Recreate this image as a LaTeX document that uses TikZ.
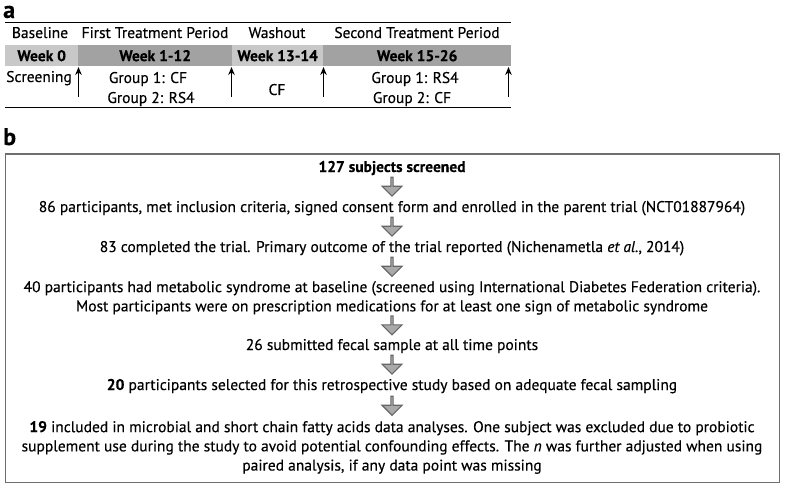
\documentclass[tikz,border=0pt]{standalone}
\usepackage{fontspec}
\setmainfont{PT Sans}[FakeBold=0.35]
\usetikzlibrary{shapes.arrows,calc,arrows.meta}
\definecolor{lightcell}{HTML}{C8C8C8}
\definecolor{darkcell}{HTML}{A2A2A2}
\definecolor{arrfill}{HTML}{A9A9A9}
\definecolor{arrline}{HTML}{666666}
\definecolor{framecol}{HTML}{6E6E6E}
\begin{document}
\begin{tikzpicture}[x=1pt,y=-1pt,
  font=\fontsize{15.5}{19.2}\selectfont,
  panel/.style={font=\fontsize{24}{24}\selectfont\bfseries, anchor=base west, inner sep=0},
  hdr/.style={anchor=base, inner sep=0, font=\fontsize{15.5}{19}\selectfont},
  cell/.style={anchor=north west, minimum height=21pt, inner sep=0, font=\fontsize{15.5}{19}\selectfont\bfseries},
  txt/.style={anchor=base, inner sep=0, align=center},
  txtm/.style={anchor=north, inner sep=0, align=center},
  uparr/.style={line width=1.8pt, -{Stealth[length=8pt,width=6.5pt]}},
  barrow/.style={single arrow, shape border rotate=270, draw=arrline, fill=arrfill, line width=1.1pt,
     minimum height=19pt, minimum width=20pt, single arrow head extend=4.5pt, single arrow tip angle=90, inner sep=0}
]
\useasboundingbox (0,0) rectangle (787,484);

% ---------- panel a ----------
\node[panel] (la) at (3,18) {a};
\draw[line width=1pt] (5,23) -- (511,23);
\node[hdr] (h1) at (40,38) {Baseline};
\node[hdr] (h2) at (155,38) {First Treatment Period};
\node[hdr] (h3) at (277,38) {Washout};
\node[hdr] (h4) at (417,38) {Second Treatment Period};

\node[cell, fill=lightcell, minimum width=73pt] (c1) at (5,45) {Week 0};
\node[cell, fill=darkcell, minimum width=154pt] (c2) at (78,45) {Week 1-12};
\node[cell, fill=lightcell, minimum width=91pt] (c3) at (232,45) {Week 13-14};
\node[cell, fill=darkcell, minimum width=188pt] (c4) at (323,45) {Week 15-26};

\node[hdr] (s1) at (39,82) {Screening};
\node[hdr] (g11) at (148,83) {Group 1: CF};
\node[hdr] (g12) at (151,103) {Group 2: RS4};
\node[hdr] (cf) at (277,95) {CF};
\node[hdr] (g21) at (415,83) {Group 1: RS4};
\node[hdr] (g22) at (412,103) {Group 2: CF};

\coordinate (a1b) at (78.5,97); \coordinate (a1t) at (78.5,67);
\coordinate (a2b) at (231.5,97); \coordinate (a2t) at (231.5,67);
\coordinate (a3b) at (323.5,97); \coordinate (a3t) at (323.5,67);
\coordinate (a4b) at (508.5,97); \coordinate (a4t) at (508.5,67);
\draw[uparr] (a1b) -- (a1t);
\draw[uparr] (a2b) -- (a2t);
\draw[uparr] (a3b) -- (a3t);
\draw[uparr] (a4b) -- (a4t);
\draw[line width=1pt] (5,108) -- (511,108);

% ---------- panel b ----------
\node[panel] (lb) at (3,145) {b};
\node[draw=framecol, line width=1.5pt, minimum width=774pt, minimum height=328pt, anchor=north west, inner sep=0] (frame) at (4.5,153.5) {};

\node[txt] (t1) at (392,172) {\strut\bfseries 127 subjects screened};
\node[txt] (t2) at (392,212) {\strut 86 participants, met inclusion criteria, signed consent form and enrolled in the parent trial (NCT01887964)};
\node[txt] (t3) at (392,252) {\strut 83 completed the trial. Primary outcome of the trial reported (Nichenametla \textit{et al.}, 2014)};
\node[txtm] (t4) at (392,278.5) {\strut 40 participants had metabolic syndrome at baseline (screened using International Diabetes Federation criteria).\\ Most participants were on prescription medications for at least one sign of metabolic syndrome\strut};
\node[txt] (t5) at (392,350) {\strut 26 submitted fecal sample at all time points};
\node[txt] (t6) at (392,390) {\strut\textbf{20} participants selected for this retrospective study based on adequate fecal sampling};
\node[txtm] (t7) at (392,418.5) {\strut\textbf{19} included in microbial and short chain fatty acids data analyses. One subject was excluded due to probiotic\\ supplement use during the study to avoid potential confounding effects. The \textit{n} was further adjusted when using\\ paired analysis, if any data point was missing\strut};

\path (t1.south) -- (t2.north) node[barrow, midway, yshift=2pt] (b1) {};
\path (t2.south) -- (t3.north) node[barrow, midway, yshift=2pt] (b2) {};
\path (t3.south) -- (t4.north) node[barrow, midway, yshift=2pt] (b3) {};
\path (t4.south) -- (t5.north) node[barrow, midway, yshift=2pt] (b4) {};
\path (t5.south) -- (t6.north) node[barrow, midway, yshift=2pt] (b5) {};
\path (t6.south) -- (t7.north) node[barrow, midway, yshift=2pt] (b6) {};
\end{tikzpicture}
\end{document}
